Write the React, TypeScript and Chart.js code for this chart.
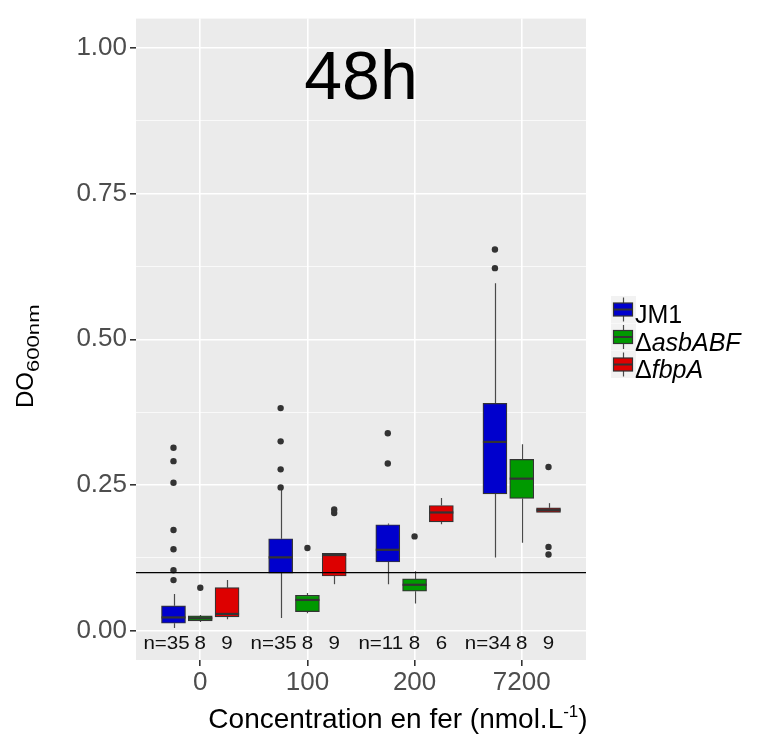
import React, { useEffect, useRef } from 'react';
import { Chart, registerables } from 'chart.js';

Chart.register(...registerables);

// ---------- data ----------
const CATEGORIES = ['0', '100', '200', '7200'];
const SERIES_NAMES = ['JM1', 'asbABF', 'fbpA'];
const SERIES_COLORS = ['#0000CD', '#009900', '#DD0000'];

// [whiskerLow, q1, median, q3, whiskerHigh] per category
const JM1_STATS = [
  [0.005, 0.013, 0.023, 0.043, 0.063],
  [0.022, 0.099, 0.126, 0.158, 0.243],
  [0.080, 0.118, 0.139, 0.182, 0.184],
  [0.126, 0.235, 0.324, 0.390, 0.596],
];
const ASB_STATS = [
  [0.015, 0.017, 0.0216, 0.0256, 0.027],
  [0.030, 0.033, 0.053, 0.061, 0.065],
  [0.047, 0.068, 0.079, 0.089, 0.102],
  [0.151, 0.227, 0.261, 0.294, 0.320],
];
const FBP_STATS = [
  [0.020, 0.024, 0.029, 0.074, 0.087],
  [0.080, 0.094, 0.130, 0.133, 0.133],
  [0.183, 0.187, 0.203, 0.215, 0.228],
  [0.203, 0.203, 0.207, 0.211, 0.219],
];

const JM1_OUTLIERS = [
  [0.314, 0.291, 0.254, 0.173, 0.140, 0.104, 0.087],
  [0.382, 0.325, 0.277, 0.246],
  [0.339, 0.287],
  [0.654, 0.622],
];
const ASB_OUTLIERS = [[0.074], [0.142], [0.162], []];
const FBP_OUTLIERS = [[], [0.208, 0.202], [], [0.281, 0.144, 0.131]];

const JM1_N = [35, 35, 11, 34];
const ASB_N = [8, 8, 8, 8];
const FBP_N = [9, 9, 6, 9];

const Y_TICKS = [0, 0.125, 0.25, 0.375, 0.5, 0.625, 0.75, 0.875, 1];
const THRESHOLD = 0.1;
const TITLE = '48h';

// ---------- derived ----------
const ALL_STATS = [JM1_STATS, ASB_STATS, FBP_STATS];
const ALL_OUTLIERS = [JM1_OUTLIERS, ASB_OUTLIERS, FBP_OUTLIERS];
const ALL_N = [JM1_N, ASB_N, FBP_N];
const DODGE = 0.25;
const xPos = (series: number, cat: number) => cat + 1 + (series - 1) * DODGE;
const isMajor = (v: number) => Math.abs(v * 4 - Math.round(v * 4)) < 1e-9;

const FONT = '"Liberation Sans", Arial, sans-serif';

const boxPlugin = {
  id: 'boxExtras',
  beforeDraw(chart: any) {
    const { ctx, chartArea } = chart;
    ctx.save();
    ctx.fillStyle = '#EBEBEB';
    ctx.fillRect(chartArea.left, chartArea.top, chartArea.right - chartArea.left, chartArea.bottom - chartArea.top);
    ctx.restore();
  },
  beforeDatasetsDraw(chart: any) {
    const { ctx } = chart;
    const xs = chart.scales.x;
    const ys = chart.scales.y;
    ctx.save();
    ctx.strokeStyle = '#4a4a4a';
    ctx.lineWidth = 1.2;
    ALL_STATS.forEach((stats, s) => {
      stats.forEach((st, c) => {
        const px = Math.round(xs.getPixelForValue(xPos(s, c))) + 0.5;
        ctx.beginPath();
        ctx.moveTo(px, ys.getPixelForValue(st[0]));
        ctx.lineTo(px, ys.getPixelForValue(st[1]));
        ctx.moveTo(px, ys.getPixelForValue(st[3]));
        ctx.lineTo(px, ys.getPixelForValue(st[4]));
        ctx.stroke();
      });
    });
    ctx.restore();
  },
  afterDatasetsDraw(chart: any) {
    const { ctx, chartArea } = chart;
    const xs = chart.scales.x;
    const ys = chart.scales.y;
    ctx.save();
    // medians
    ctx.strokeStyle = '#333333';
    ctx.lineWidth = 2.2;
    ALL_STATS.forEach((stats, s) => {
      stats.forEach((st, c) => {
        const px = xs.getPixelForValue(xPos(s, c));
        const py = ys.getPixelForValue(st[2]);
        ctx.beginPath();
        ctx.moveTo(px - 12, py);
        ctx.lineTo(px + 12, py);
        ctx.stroke();
      });
    });
    // threshold line
    ctx.strokeStyle = '#000000';
    ctx.lineWidth = 1.3;
    const ty = ys.getPixelForValue(THRESHOLD);
    ctx.beginPath();
    ctx.moveTo(chartArea.left, ty);
    ctx.lineTo(chartArea.right, ty);
    ctx.stroke();
    // n labels
    ctx.fillStyle = '#111111';
    ctx.textAlign = 'center';
    ctx.textBaseline = 'alphabetic';
    const ny = ys.getPixelForValue(-0.031);
    ALL_N.forEach((ns, s) => {
      ns.forEach((n, c) => {
        const px = xs.getPixelForValue(xPos(s, c));
        ctx.save();
        ctx.translate(s === 0 ? px - 7 : px, ny);
        ctx.scale(1.08, 1);
        ctx.font = `19px ${FONT}`;
        ctx.fillText(s === 0 ? `n=${n}` : `${n}`, 0, 0);
        ctx.restore();
      });
    });
    // title
    ctx.fillStyle = '#000000';
    ctx.font = `68px ${FONT}`;
    ctx.textAlign = 'center';
    ctx.fillText(TITLE, xs.getPixelForValue(2.5), ys.getPixelForValue(0.912));
    ctx.restore();
  },
  afterDraw(chart: any) {
    const { ctx } = chart;
    ctx.save();
    ctx.fillStyle = '#000000';
    ctx.textBaseline = 'alphabetic';
    // y-axis title
    ctx.save();
    ctx.translate(33, 408);
    ctx.rotate(-Math.PI / 2);
    ctx.textAlign = 'left';
    ctx.font = `24px ${FONT}`;
    ctx.fillText('DO', 0, 0);
    const w1 = ctx.measureText('DO').width;
    ctx.translate(w1, 6);
    ctx.scale(1.3, 1);
    ctx.font = `17px ${FONT}`;
    ctx.fillText('600nm', 0, 0);
    ctx.restore();
    // x-axis title
    const main = 'Concentration en fer (nmol.L';
    const sup = '-1';
    const end = ')';
    ctx.font = `28px ${FONT}`;
    const wm = ctx.measureText(main).width;
    const we = ctx.measureText(end).width;
    ctx.font = `17px ${FONT}`;
    const ws = ctx.measureText(sup).width;
    const total = wm + ws + we;
    const x0 = 398 - total / 2;
    const by = 728;
    ctx.textAlign = 'left';
    ctx.font = `28px ${FONT}`;
    ctx.fillText(main, x0, by);
    ctx.font = `17px ${FONT}`;
    ctx.fillText(sup, x0 + wm, by - 11);
    ctx.font = `28px ${FONT}`;
    ctx.fillText(end, x0 + wm + ws, by);
    // legend
    const keyCenters = [309.5, 337, 364.5];
    SERIES_NAMES.forEach((name, i) => {
      const yc = keyCenters[i];
      ctx.fillStyle = '#F2F2F2';
      ctx.fillRect(611, yc - 13.5, 25, 27);
      ctx.strokeStyle = '#4a4a4a';
      ctx.lineWidth = 1.2;
      ctx.beginPath();
      ctx.moveTo(623.5, yc - 12);
      ctx.lineTo(623.5, yc + 12);
      ctx.stroke();
      ctx.fillStyle = SERIES_COLORS[i];
      ctx.fillRect(613.5, yc - 6.5, 19, 13);
      ctx.strokeStyle = '#333333';
      ctx.strokeRect(613.5, yc - 6.5, 19, 13);
      ctx.lineWidth = 2;
      ctx.beginPath();
      ctx.moveTo(613.5, yc);
      ctx.lineTo(632.5, yc);
      ctx.stroke();
      ctx.fillStyle = '#000000';
      const bx = 635;
      const bl = yc + 13.5;
      if (i === 0) {
        ctx.font = `25px ${FONT}`;
        ctx.fillText(name, bx, bl);
      } else {
        ctx.font = `25px ${FONT}`;
        ctx.fillText('Δ', bx, bl);
        const wd = ctx.measureText('Δ').width;
        ctx.font = `italic 25px ${FONT}`;
        ctx.fillText(name, bx + wd, bl);
      }
    });
    ctx.restore();
  },
};

export default function App() {
  const ref = useRef<HTMLCanvasElement | null>(null);
  useEffect(() => {
    if (!ref.current) return;
    const datasets: any[] = [];
    ALL_STATS.forEach((stats, s) => {
      datasets.push({
        type: 'bar',
        label: SERIES_NAMES[s],
        data: stats.map((st, c) => ({ x: xPos(s, c), y: [st[1], st[3]] })),
        backgroundColor: SERIES_COLORS[s],
        borderColor: '#333333',
        borderWidth: 1.2,
        borderSkipped: false,
        barThickness: 24,
        grouped: false,
        order: 2,
      });
    });
    ALL_OUTLIERS.forEach((outs, s) => {
      const pts: any[] = [];
      outs.forEach((vals, c) => vals.forEach((v) => pts.push({ x: xPos(s, c), y: v })));
      datasets.push({
        type: 'scatter',
        label: SERIES_NAMES[s] + ' outliers',
        data: pts,
        pointRadius: 3.2,
        pointBackgroundColor: '#333333',
        pointBorderWidth: 0,
        order: 1,
      });
    });
    const chart = new Chart(ref.current, {
      type: 'bar',
      data: { datasets },
      plugins: [boxPlugin],
      options: {
        animation: false,
        responsive: false,
        maintainAspectRatio: false,
        devicePixelRatio: 1,
        layout: { padding: { top: 14, right: 185, left: 0, bottom: 0 } },
        plugins: { legend: { display: false }, tooltip: { enabled: false } },
        scales: {
          x: {
            type: 'linear',
            min: 0.4,
            max: 4.6,
            offset: false,
            afterBuildTicks: (scale: any) => {
              scale.ticks = CATEGORIES.map((_, i) => ({ value: i + 1 }));
            },
            afterFit: (scale: any) => {
              scale.height = 76;
            },
            ticks: {
              callback: (v: any) => CATEGORIES[Math.round(v) - 1] ?? '',
              font: { family: FONT, size: 26 },
              color: '#4D4D4D',
              padding: 1,
              autoSkip: false,
              maxRotation: 0,
            },
            grid: { offset: false, color: '#FFFFFF', lineWidth: 1.6, tickColor: '#333333', tickLength: 6 },
            border: { display: false },
          },
          y: {
            type: 'linear',
            min: -0.05,
            max: 1.05,
            afterBuildTicks: (scale: any) => {
              scale.ticks = Y_TICKS.map((v) => ({ value: v }));
            },
            afterFit: (scale: any) => {
              scale.width = 136;
            },
            ticks: {
              callback: (v: any) => (isMajor(v) ? Number(v).toFixed(2) : ''),
              font: { family: FONT, size: 26 },
              color: '#4D4D4D',
              padding: 3,
              autoSkip: false,
            },
            grid: {
              color: '#FFFFFF',
              lineWidth: (c: any) => (c.tick && isMajor(c.tick.value) ? 1.6 : 0.7),
              tickColor: (c: any) => (c.tick && isMajor(c.tick.value) ? '#333333' : 'rgba(0,0,0,0)'),
              tickLength: 6,
            },
            border: { display: false },
          },
        },
      },
    });
    return () => chart.destroy();
  }, []);
  return (
    <div style={{ position: 'fixed', left: 0, top: 0, width: 771, height: 736, background: '#FFFFFF' }}>
      <canvas ref={ref} width={771} height={736} style={{ width: 771, height: 736, display: 'block' }} />
    </div>
  );
}
